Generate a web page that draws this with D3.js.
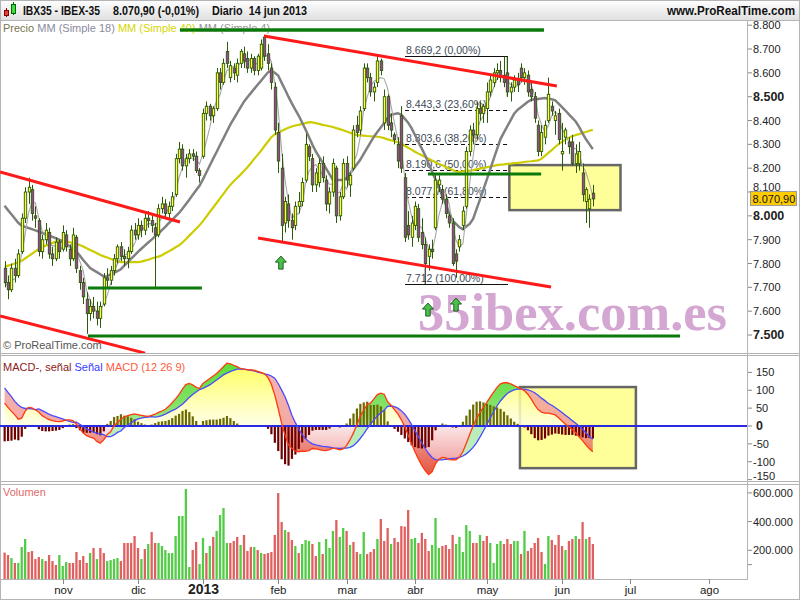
<!DOCTYPE html>
<html><head><meta charset="utf-8">
<script src="https://cdn.jsdelivr.net/npm/d3@7"></script>
<style>body{margin:0;background:#fff}svg{display:block;font-family:"Liberation Sans",Arial,sans-serif}</style>
</head><body><svg id="c" width="800" height="600"></svg>
<script>
// ---------- DATA ----------
// daily candles [open, high, low, close], 9 oct 2012 .. 14 jun 2013
const ohlc = [
[7780,7810,7700,7720],[7720,7750,7650,7690],[7690,7800,7680,7780],[7780,7820,7720,7750],[7750,7860,7740,7840],
[7850,8010,7840,7990],[7990,8120,7970,8100],[8100,8160,8050,8120],[8110,8130,7980,8010],[8000,8040,7950,7990],
[7980,7990,7830,7850],[7850,7920,7820,7900],[7900,7970,7880,7940],[7930,7950,7820,7840],[7840,7870,7790,7820],
[7820,7910,7810,7890],[7890,7900,7820,7850],
[7860,7960,7850,7930],[7920,7940,7850,7870],[7860,7880,7790,7820],[7820,7950,7810,7920],[7910,7920,7760,7780],
[7770,7790,7690,7720],[7720,7740,7630,7660],[7650,7680,7505,7590],[7590,7650,7560,7620],[7620,7660,7570,7600],
[7600,7640,7540,7570],[7570,7640,7530,7620],[7630,7760,7620,7740],[7740,7780,7700,7730],[7730,7790,7710,7770],
[7770,7840,7750,7820],[7820,7880,7800,7870],[7870,7890,7810,7830],[7830,7860,7790,7820],[7820,7870,7780,7850],
[7850,7960,7840,7940],[7940,7970,7900,7920],
[7920,7990,7900,7960],[7960,7980,7910,7940],[7940,8010,7920,7990],[7990,8020,7950,7980],[7980,8000,7930,7960],
[7950,7970,7700,7920],[7920,8050,7910,8030],[8030,8080,8010,8050],[8050,8070,7990,8010],[8010,8060,7990,8040],
[8040,8100,8020,8080],[8090,8260,8080,8240],[8240,8310,8220,8280],[8280,8300,8190,8210],[8210,8260,8160,8240],
[8240,8280,8220,8260],[8260,8280,8230,8250],[8250,8270,8180,8190],[8190,8200,8140,8170],
[8250,8450,8240,8430],[8430,8480,8400,8460],[8460,8470,8400,8420],[8420,8460,8390,8450],[8450,8620,8440,8600],
[8600,8620,8530,8560],[8560,8660,8550,8640],[8690,8730,8620,8640],[8580,8650,8560,8630],[8620,8640,8570,8600],
[8590,8660,8560,8640],[8640,8700,8620,8690],[8680,8710,8620,8650],[8660,8690,8600,8620],[8620,8680,8600,8660],
[8660,8670,8590,8610],[8610,8680,8590,8670],[8620,8740,8610,8720],[8750,8760,8650,8670],[8680,8720,8610,8640],
[8620,8640,8530,8560],[8540,8560,8340,8360],
[8350,8390,8180,8230],[8200,8260,7890,7960],[7970,8080,7930,8060],[8050,8090,7950,7980],[7980,8010,7900,7950],
[7960,8060,7940,8040],[8040,8100,8010,8060],[8060,8160,8040,8140],[8150,8345,8140,8300],[8290,8300,8230,8250],
[8240,8260,8100,8130],[8130,8200,8100,8180],[8140,8240,8120,8220],[8220,8250,8140,8160],[8150,8170,8020,8050],
[8050,8120,8010,8100],[8100,8240,8080,8220],[8200,8210,7970,8000],[8000,8100,7980,8080],[8080,8240,8070,8220],
[8220,8250,8120,8150],[8130,8180,8080,8170],[8200,8380,8190,8360],[8380,8420,8330,8350],[8360,8460,8340,8440],
[8450,8640,8440,8620],[8620,8640,8560,8580],[8580,8600,8500,8520],[8520,8560,8480,8540],[8560,8670,8540,8650],
[8650,8660,8590,8610],[8390,8530,8360,8500],[8500,8510,8360,8380],[8390,8430,8330,8360],[8340,8350,8300,8320],
[8300,8330,8200,8230],[8420,8460,8180,8200],[8160,8180,7890,7910],[7960,8020,7900,7920],[7910,8000,7870,7970],
[7960,8060,7940,8040],[8030,8050,7890,7910],[7930,7990,7860,7880],[7880,7910,7780,7800],[7830,7880,7770,7860],
[7860,7900,7820,7850],[7950,8170,7940,8150],[8130,8170,8100,8150],[8110,8130,8050,8070],[8070,8090,7990,8010],
[8000,8010,7950,7970],[7970,7990,7790,7800],[7840,7860,7740,7810],[7870,7920,7850,7900],[7960,8040,7940,8020],
[8040,8290,8030,8270],[8270,8380,8250,8360],[8360,8390,8300,8340],[8340,8480,8320,8450],[8450,8480,8400,8430],
[8430,8470,8390,8460],
[8450,8560,8390,8520],[8520,8590,8500,8570],[8560,8620,8540,8600],[8600,8640,8570,8610],[8610,8650,8560,8580],
[8590,8669,8540,8560],[8600,8669,8500,8520],[8520,8560,8480,8540],[8540,8590,8520,8570],[8570,8600,8520,8550],
[8620,8640,8560,8580],[8580,8620,8550,8600],[8590,8610,8500,8520],[8530,8560,8480,8500],[8500,8520,8390,8410],
[8380,8400,8250,8270],[8270,8380,8250,8350],[8330,8400,8300,8380],[8400,8580,8390,8510],[8460,8480,8420,8440],
[8400,8440,8340,8420],[8430,8450,8300,8320],
[8260,8390,8190,8270],[8330,8370,8300,8360],[8310,8330,8260,8290],[8310,8340,8210,8220],[8220,8300,8180,8260],
[8220,8310,8190,8270],[8180,8220,8060,8090],[8060,8120,7970,8110],[8030,8090,7950,8070],[8095,8130,8040,8071]
];
// simple moving averages
const ma18 = [8042,8024,8007,7989,7971,7959,7954,7949,7944,7939,7934,7928,7923,7917,7912,7906,7900,7891,7882,7872,
7863,7850,7833,7815,7798,7781,7772,7764,7755,7746,7747,7754,7761,7768,7776,7791,7805,7820,7834,7849,
7862,7875,7888,7900,7914,7926,7940,7954,7969,7983,7998,8012,8030,8049,8068,8088,8107,8126,8153,8182,
8211,8240,8268,8297,8325,8354,8383,8407,8431,8455,8479,8498,8515,8533,8550,8567,8585,8602,8609,8600,
8589,8559,8530,8500,8472,8446,8421,8392,8362,8331,8299,8270,8247,8223,8199,8175,8151,8150,8150,8150,
8159,8178,8197,8216,8235,8260,8284,8308,8332,8352,8371,8390,8410,8424,8427,8430,8425,8408,8391,8368,
8339,8310,8282,8253,8220,8185,8152,8119,8084,8049,8012,7980,7966,7952,7944,7955,7966,7987,8028,8068,
8110,8152,8195,8238,8280,8322,8349,8376,8402,8429,8445,8456,8467,8479,8487,8489,8490,8492,8494,8491,
8489,8485,8471,8456,8442,8426,8411,8396,8373,8346,8321,8301,8280];
const ma40 = [7787,7791,7795,7800,7804,7811,7821,7831,7841,7851,7861,7869,7875,7880,7886,7892,7898,7896,7893,7889,
7885,7882,7878,7871,7864,7857,7850,7843,7836,7830,7825,7820,7815,7810,7806,7806,7806,7806,7806,7806,
7808,7812,7816,7821,7825,7829,7835,7843,7851,7859,7868,7876,7888,7902,7917,7931,7946,7960,7978,7997,
8016,8035,8054,8073,8092,8112,8130,8145,8159,8173,8188,8204,8221,8239,8256,8273,8293,8311,8330,8342,
8349,8356,8363,8370,8375,8379,8382,8386,8389,8393,8392,8389,8386,8382,8379,8376,8373,8368,8364,8359,
8354,8349,8344,8339,8338,8337,8335,8334,8333,8332,8330,8326,8321,8317,8313,8309,8303,8294,8286,8278,
8269,8261,8254,8247,8240,8232,8225,8218,8212,8205,8199,8192,8186,8185,8187,8189,8190,8192,8195,8198,
8201,8204,8207,8210,8213,8215,8216,8218,8219,8221,8222,8224,8226,8228,8229,8231,8233,8239,8252,8264,
8276,8289,8301,8311,8320,8328,8334,8339,8343,8348,8352,8357,8361];
// MACD (12 26 9) and its signal line
const macdLine = [64,52,41,31,19,22,41,52,51,45,39,29,23,18,15,13,12,14,17,17,15,5,-7,-20,-27,-31,-34,-43,-48,-39,
-24,-16,0,10,19,25,29,32,34,32,30,28,27,30,33,38,42,47,55,65,76,88,103,116,119,115,109,105,119,126,
133,140,147,156,166,176,174,170,166,161,159,157,157,156,153,150,146,136,117,87,49,8,-25,-53,-62,-70,-72,
-70,-71,-69,-63,-64,-66,-68,-69,-66,-62,-64,-67,-64,-55,-39,-20,3,27,44,60,64,76,88,92,89,68,58,46,34,18,
-2,-25,-50,-72,-92,-110,-125,-136,-128,-106,-93,-88,-89,-94,-95,-95,-87,-72,-49,-24,0,21,38,52,66,81,95,
108,118,121,121,118,113,109,104,99,89,75,59,46,39,36,36,34,31,23,14,5,-2,-10,-19,-30,-41,-53,-64,-72];
const signalLine = [107,94,82,69,59,52,49,49,48,46,48,43,38,33,29,26,23,20,16,13,10,11,5,-1,-8,-12,-17,-20,-22,-24,
-30,-30,-25,-18,-14,-4,2,9,15,20,22,24,25,26,25,26,29,33,38,43,47,54,61,70,80,88,95,102,105,110,
115,122,129,136,143,148,152,156,159,159,159,158,156,154,151,149,146,144,140,134,119,101,82,58,30,10,-8,
-24,-36,-44,-50,-53,-55,-57,-58,-59,-61,-62,-63,-62,-62,-60,-55,-46,-35,-22,-8,5,17,28,37,44,55,56,54,50,43,
33,20,4,-13,-30,-47,-63,-77,-88,-94,-95,-95,-93,-92,-91,-90,-88,-84,-78,-70,-60,-47,-31,-14,4,22,40,
56,70,81,91,97,101,103,104,103,101,98,93,86,78,71,63,58,52,45,38,30,23,15,8,0,-9,-19,-30,-37];
// volume in thousands, and bar colour (g = up, r = down)
const volume = [184,167,146,112,112,223,279,188,195,139,153,139,125,167,125,98,167,91,118,112,
112,188,132,160,112,181,216,139,216,181,125,132,139,146,125,251,251,251,300,216,
139,209,244,328,251,251,230,202,181,181,300,439,439,627,84,202,258,105,286,181,
230,293,335,446,495,251,251,265,293,237,307,195,223,223,202,181,174,181,188,307,
599,397,341,328,272,230,181,244,272,265,244,160,258,174,279,216,335,411,293,355,
335,237,258,188,174,328,174,188,209,279,418,265,355,244,286,258,
369,365,481,279,286,251,321,279,195,237,425,216,230,237,209,307,244,293,188,376,
335,251,251,307,265,300,251,112,244,265,244,279,244,265,265,174,335,195,216,251,
286,188,105,300,272,237,307,230,202,265,279,300,279,397,279,293,244];
const volumeDir = ("rrgrgggrrrrgrrrrgggrrrrrrgrgrrggggrrrrrrgrgrrggggggggggrrggrgrggggrrrgrrrgrgrrrr" +
 "rrgrrgrgggrrgrgggrggrgrrggrrrgrrrgrrrrrggrrrrgggrrrrgggggrrgrrggggrrrggrgrrrrrggrrrrgrrgrrgrr").split("");
const monthLabels = ["nov","dic","2013","feb","mar","abr","may","jun","jul","ago"];
const monthIndex = [17,39,58,80,100,120,141,163,183,206];
const priceTicks = [7500,7600,7700,7800,7900,8000,8100,8200,8300,8400,8500,8600,8700,8800];
const macdTicks = [150,100,50,0,-50,-100,-150];
const volumeTicks = [600,400,200];
const lastPrice = 8070.90;
// annotations in chart coordinates (day index, price)
const redLines = [[-1.3,8184,51.3,7974],[-1.3,7580,41.1,7424],[75.9,8755,161.5,8545],[74.1,7907,159.8,7701]];
const greenLines = [[51.3,157.7,8780],[24.4,57.7,7697],[24.4,197.5,7496],[123.8,156.9,8176]];
const fibHigh = 8669.2, fibLow = 7712, fibFrom = 117.1, fibTo = 147.2;
const fibLevels = [0,0.236,0.382,0.5,0.618,1];
const fibText = ["8.669,2 (0,00%)","8.443,3 (23,60%)","8.303,6 (38,20%)","8.190,6 (50,00%)","8.077,7 (61,80%)","7.712 (100,00%)"];
const arrows = [[80.8,7831],[123.8,7634],[132,7655]];
const boxMain = [147.6,180.1,8213,8024];
const boxMacd = [150.7,184.6,109,-118];

// ---------- SCALES ----------
const x = d3.scaleLinear().domain([0,172]).range([4.56,592.8]);
const yP = d3.scaleLinear().domain([7500,8800]).range([335,25.2]);
const yM = d3.scaleLinear().domain([-150,150]).range([479.6,372.4]);
const yV = d3.scaleLinear().domain([0,600]).range([579,492.9]);
const fmt = d3.formatLocale({decimal:",",thousands:".",grouping:[3],currency:["",""]}).format(",");
const closes = ohlc.map(d=>d[3]);
const ma4 = closes.map((c,i)=>d3.mean(closes.slice(Math.max(0,i-3),i+1)));
const idx = d3.range(ohlc.length);

const svg = d3.select("#c");
const defs = svg.append("defs");
function clip(id,x0,y0,w,h){defs.append("clipPath").attr("id",id).append("rect").attr("x",x0).attr("y",y0).attr("width",w).attr("height",h);}
clip("cm",0,21,747,332); clip("cd",0,356,747,125); clip("cv",0,484,747,95);
function grad(id,stops){const g=defs.append("linearGradient").attr("id",id).attr("gradientUnits","userSpaceOnUse").attr("x1",0).attr("x2",0).attr("y1",356).attr("y2",481);
 stops.forEach(s=>g.append("stop").attr("offset",s[0]).attr("stop-color",s[1]));}
grad("gBase",[[0,"#ffff30"],[0.56,"#ffffe6"],[0.561,"#fbe2e2"],[1,"#e86a6a"]]);
grad("gRed",[[0,"#f4aaa6"],[0.56,"#f09a94"],[1,"#dd2a10"]]);
grad("gGreen",[[0,"#3fd81a"],[0.45,"#7ee060"],[0.56,"#b2eab2"],[1,"#b8eeb8"]]);
const hg = defs.append("linearGradient").attr("id","hg").attr("x1",0).attr("x2",0).attr("y1",0).attr("y2",1);
hg.append("stop").attr("offset",0).attr("stop-color","#ffffff");
hg.append("stop").attr("offset",1).attr("stop-color","#e0e0e0");

// ---------- FRAME ----------
svg.append("rect").attr("width",800).attr("height",600).attr("fill","#fff");
svg.append("rect").attr("width",800).attr("height",20).attr("fill","url(#hg)");
const frame = svg.append("g").attr("stroke","#b4b4b4").attr("fill","none");
frame.append("rect").attr("x",0.5).attr("y",0.5).attr("width",799).attr("height",599);
[20.5,353.5,355.5,481.5,484.5].forEach(v=>frame.append("line").attr("x1",0).attr("x2",800).attr("y1",v).attr("y2",v));
frame.append("line").attr("x1",747.5).attr("x2",747.5).attr("y1",21).attr("y2",579);
frame.append("line").attr("x1",0).attr("x2",748).attr("y1",579.5).attr("y2",579.5);

// header
const ic = svg.append("g");
ic.append("line").attr("x1",6.5).attr("x2",6.5).attr("y1",8).attr("y2",17).attr("stroke","#800");
ic.append("rect").attr("x",4.5).attr("y",10.5).attr("width",4).attr("height",5).attr("fill","#e04040").attr("stroke","#800");
ic.append("line").attr("x1",13.5).attr("x2",13.5).attr("y1",2).attr("y2",15).attr("stroke","#060");
ic.append("rect").attr("x",11.5).attr("y",4.5).attr("width",4).attr("height",9).attr("fill","#40dd40").attr("stroke","#060");
const ht = svg.append("g").attr("font-size","12px").attr("font-weight","bold").attr("fill","#111");
[["IBX35 - IBEX-35",23,77],["8.070,90 (-0,01%)",113,86],["Diario  14 jun 2013",212,95],["www.ProRealTime.com",667,128]]
 .forEach(t=>ht.append("text").attr("x",t[1]).attr("y",15).attr("textLength",t[2]).attr("lengthAdjust","spacingAndGlyphs")
   .attr("xml:space","preserve").text(t[0]));

// ---------- MAIN PANEL ----------
const gm = svg.append("g").attr("clip-path","url(#cm)");
gm.append("rect").attr("x",x(boxMain[0])).attr("y",yP(boxMain[2])).attr("width",x(boxMain[1])-x(boxMain[0]))
  .attr("height",yP(boxMain[3])-yP(boxMain[2])).attr("fill","#ffff99").attr("stroke","#666").attr("stroke-width",2.5);
// fibonacci
fibLevels.forEach((lv,k)=>{
  const p = fibHigh-(fibHigh-fibLow)*lv, yy = Math.round(yP(p))+0.5;
  gm.append("line").attr("x1",x(fibFrom)).attr("x2",x(fibTo)).attr("y1",yy).attr("y2",yy)
    .attr("stroke","#111").attr("stroke-dasharray",(k==0||k==5)?null:"4,3");
  gm.append("text").attr("x",x(fibFrom)+1).attr("y",yy-2.5).attr("font-size","10.5px").attr("fill","#3c4a58").text(fibText[k]);
});
gm.append("line").attr("x1",x(147)).attr("x2",x(147)).attr("y1",yP(fibHigh)).attr("y2",yP(8500)).attr("stroke","#111");
gm.append("line").attr("x1",x(123)).attr("x2",x(123)).attr("y1",yP(fibLow)).attr("y2",yP(7781)).attr("stroke","#111");
// moving averages
const lineP = arr=>d3.line().x((d,i)=>x(i)).y(d=>yP(d))(arr);
gm.append("path").attr("d",lineP(ma40)).attr("fill","none").attr("stroke","#cccc00").attr("stroke-width",2.2);
gm.append("path").attr("d",lineP(ma18)).attr("fill","none").attr("stroke","#808080").attr("stroke-width",2.5);
gm.append("path").attr("d",lineP(ma4)).attr("fill","none").attr("stroke","#a8a8a8").attr("stroke-width",1.1);
// candles
const cg = gm.append("g");
idx.forEach(i=>{
  const [o,h,l,c] = ohlc[i], cx = Math.round(x(i))+0.5;
  cg.append("line").attr("x1",cx).attr("x2",cx).attr("y1",yP(h)).attr("y2",yP(l)).attr("stroke","#2d5a08");
  const top = yP(Math.max(o,c)), bot = yP(Math.min(o,c));
  cg.append("rect").attr("x",cx-1.2).attr("y",top).attr("width",2.4).attr("height",Math.max(1,bot-top))
    .attr("fill",c>=o?"#ffff33":"#a040a0").attr("stroke","#2d5a08").attr("stroke-width",0.9);
});
// trend lines
redLines.forEach(l=>gm.append("line").attr("x1",x(l[0])).attr("y1",yP(l[1])).attr("x2",x(l[2])).attr("y2",yP(l[3]))
  .attr("stroke","#ff1a1a").attr("stroke-width",3));
greenLines.forEach(l=>gm.append("line").attr("x1",x(l[0])).attr("x2",x(l[1])).attr("y1",yP(l[2])).attr("y2",yP(l[2]))
  .attr("stroke","#0a7a0a").attr("stroke-width",3));
// watermark
gm.append("text").attr("x",418).attr("y",330).attr("font-family","'Liberation Serif',serif").attr("font-weight","bold")
  .attr("font-size","52px").attr("fill","#d4a6d2").attr("textLength",309).attr("lengthAdjust","spacingAndGlyphs").text("35ibex.com.es");
// arrows
arrows.forEach(a=>gm.append("path").attr("transform",`translate(${x(a[0])},${yP(a[1])})`)
  .attr("d","M0,0L5.5,6L2.2,6L2.2,13L-2.2,13L-2.2,6L-5.5,6Z").attr("fill","#4cc04c").attr("stroke","#1f5f1f").attr("stroke-width",1));
// legend
const lg = svg.append("text").attr("x",3).attr("y",32).attr("font-size","11px").attr("xml:space","preserve");
[["Precio ","#77774a"],["MM (Simple 18) ","#8a8aa0"],["MM (Simple 40) ","#d6d600"],["MM (Simple 4)","#959595"]]
  .forEach(t=>lg.append("tspan").attr("fill",t[1]).text(t[0]));
svg.append("line").attr("x1",x(greenLines[0][0])).attr("x2",x(greenLines[0][1])).attr("y1",yP(8780)).attr("y2",yP(8780))
  .attr("stroke","#0a7a0a").attr("stroke-width",3);
svg.append("text").attr("x",3).attr("y",349).attr("font-size","11px").attr("fill","#555").text("© ProRealTime.com");
// price axis
const ly = yP(lastPrice);
priceTicks.forEach(p=>{
  const yy = yP(p), bold = p%500===0;
  svg.append("line").attr("x1",748).attr("x2",752).attr("y1",yy).attr("y2",yy).attr("stroke","#888");
  const ty = Math.abs(yy-ly)<14 ? ly-7.5 : yy+4;
  svg.append("text").attr("x",753).attr("y",ty).attr("font-size",bold?"12.5px":"11px").attr("font-weight",bold?"bold":"normal")
    .attr("fill","#222").text(fmt(p));
});
svg.append("rect").attr("x",750.5).attr("y",ly-7.5).attr("width",46).attr("height",14).attr("fill","#ffcc00").attr("stroke","#999");
svg.append("text").attr("x",752.5).attr("y",ly+4).attr("font-size","11px").attr("fill","#111").text("8.070,90");

// ---------- MACD PANEL ----------
const gd = svg.append("g").attr("clip-path","url(#cd)");
gd.append("rect").attr("x",x(boxMacd[0])).attr("y",yM(boxMacd[2])).attr("width",x(boxMacd[1])-x(boxMacd[0]))
  .attr("height",yM(boxMacd[3])-yM(boxMacd[2])).attr("fill","#ffff99").attr("stroke","#666").attr("stroke-width",2.5);
const base = idx.map(i=>{const m=macdLine[i],s=signalLine[i];
  if(m>=0&&s>=0) return Math.min(m,s); if(m<=0&&s<=0) return Math.max(m,s); return 0;});
gd.append("path").attr("d",d3.area().x(i=>x(i)).y0(yM(0)).y1(i=>yM(base[i]))(idx)).attr("fill","url(#gBase)").attr("opacity",0.85);
gd.append("path").attr("d",d3.area().x(i=>x(i)).y0(i=>yM(signalLine[i])).y1(i=>yM(Math.max(macdLine[i],signalLine[i])))(idx))
  .attr("fill","url(#gGreen)").attr("opacity",0.9);
gd.append("path").attr("d",d3.area().x(i=>x(i)).y0(i=>yM(signalLine[i])).y1(i=>yM(Math.min(macdLine[i],signalLine[i])))(idx))
  .attr("fill","url(#gRed)").attr("opacity",0.85);
idx.forEach(i=>{const h = macdLine[i]-signalLine[i];
  gd.append("rect").attr("x",x(i)-1).attr("width",2.2).attr("y",Math.min(yM(0),yM(h))).attr("height",Math.abs(yM(h)-yM(0)))
    .attr("fill",h>=0?"#6b6b00":"#6e0000");});
gd.append("line").attr("x1",0).attr("x2",747).attr("y1",yM(0)).attr("y2",yM(0)).attr("stroke","#2a2ae0").attr("stroke-width",2.2);
gd.append("path").attr("d",d3.line().x(i=>x(i)).y(i=>yM(signalLine[i]))(idx)).attr("fill","none").attr("stroke","#4a4aff").attr("stroke-width",1.3);
gd.append("path").attr("d",d3.line().x(i=>x(i)).y(i=>yM(macdLine[i]))(idx)).attr("fill","none").attr("stroke","#ff3a10").attr("stroke-width",1.3);
const dl = svg.append("text").attr("x",3).attr("y",371).attr("font-size","11px").attr("xml:space","preserve");
[["MACD-, señal ","#8a2020"],["Señal ","#3a3aff"],["MACD (12 26 9)","#ff5a40"]].forEach(t=>dl.append("tspan").attr("fill",t[1]).text(t[0]));
macdTicks.forEach(v=>{const yy = yM(v);
  svg.append("line").attr("x1",748).attr("x2",752).attr("y1",yy).attr("y2",yy).attr("stroke","#888");
  svg.append("text").attr("x",v<0?753:756).attr("y",Math.min(yy+4,480)).attr("font-size",v===0?"12.5px":"11px")
    .attr("font-weight",v===0?"bold":"normal").attr("fill","#222").text(v);});

// ---------- VOLUME PANEL ----------
const gv = svg.append("g").attr("clip-path","url(#cv)");
idx.forEach(i=>gv.append("rect").attr("x",x(i)-1.1).attr("width",2.3).attr("y",yV(volume[i])).attr("height",yV(0)-yV(volume[i]))
  .attr("fill",volumeDir[i]==="g"?"#52cc46":"#e06060"));
svg.append("text").attr("x",3).attr("y",496).attr("font-size","11px").attr("fill","#e06a6a").text("Volumen");
volumeTicks.concat([100]).forEach(v=>{const yy=yV(v);
  svg.append("line").attr("x1",748).attr("x2",752).attr("y1",yy).attr("y2",yy).attr("stroke","#888");
  if(v!==100) svg.append("text").attr("x",753).attr("y",yy+4).attr("font-size","11px").attr("fill","#222").text(fmt(v*1000));});

// ---------- TIME AXIS ----------
monthIndex.forEach((mi,k)=>{const xx = Math.round(x(mi))+0.5, bold = monthLabels[k]==="2013";
  svg.append("line").attr("x1",xx).attr("x2",xx).attr("y1",579).attr("y2",584).attr("stroke","#888");
  svg.append("text").attr("x",xx).attr("y",594).attr("text-anchor","middle").attr("font-size",bold?"14px":"11.5px")
    .attr("font-weight",bold?"bold":"normal").attr("fill","#222").text(monthLabels[k]);});
</script></body></html>
